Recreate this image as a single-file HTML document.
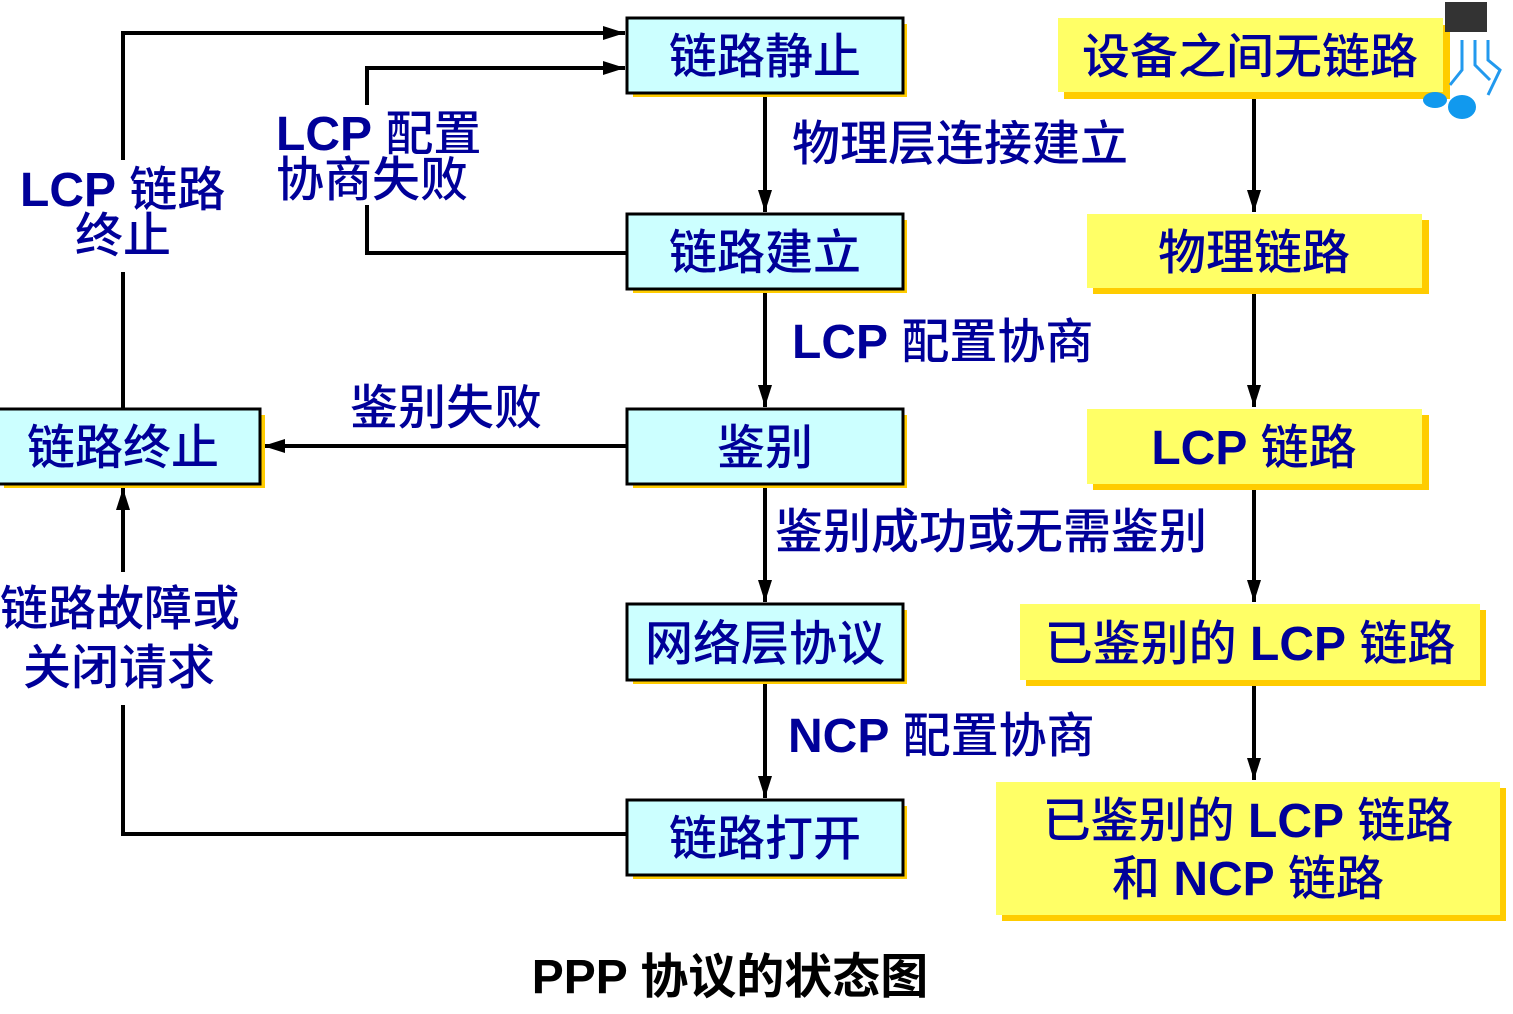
<!DOCTYPE html>
<html><head><meta charset="utf-8"><style>
html,body{margin:0;padding:0;background:#fff;}
svg text{font-family:"Liberation Sans","Noto Sans CJK SC",sans-serif;fill:#000099;font-weight:500;}
.b{font-weight:bold;}
svg text.t{fill:#000;font-weight:bold;}
</style></head><body>
<svg width="1513" height="1009" viewBox="0 0 1513 1009" xmlns="http://www.w3.org/2000/svg">
<defs>
<marker id="a" markerWidth="22" markerHeight="14" refX="22" refY="7" orient="auto" markerUnits="userSpaceOnUse">
<path d="M0,0 L22,7 L0,14 Z" fill="#000"/></marker>
</defs>
<g stroke="#000" stroke-width="4" fill="none">
<line x1="765" y1="93" x2="765" y2="212" marker-end="url(#a)"/>
<line x1="765" y1="289" x2="765" y2="407" marker-end="url(#a)"/>
<line x1="765" y1="484" x2="765" y2="602" marker-end="url(#a)"/>
<line x1="765" y1="680" x2="765" y2="798" marker-end="url(#a)"/>
<line x1="1254" y1="92" x2="1254" y2="212" marker-end="url(#a)"/>
<line x1="1254" y1="288" x2="1254" y2="407" marker-end="url(#a)"/>
<line x1="1254" y1="484" x2="1254" y2="602" marker-end="url(#a)"/>
<line x1="1254" y1="680" x2="1254" y2="780" marker-end="url(#a)"/>
<polyline points="123,409 123,33 625,33" marker-end="url(#a)"/>
<polyline points="627,253 367,253 367,68 625,68" marker-end="url(#a)"/>
<line x1="627" y1="446" x2="263" y2="446" marker-end="url(#a)"/>
<polyline points="627,834 123,834 123,488" marker-end="url(#a)"/>
</g>
<rect x="15" y="160" width="215" height="112" fill="#fff"/>
<rect x="272" y="105" width="215" height="100" fill="#fff"/>
<rect x="0" y="572" width="240" height="133" fill="#fff"/>
<g font-size="48">
<rect x="633" y="24" width="274" height="73" fill="#FFCC00"/>
<rect x="627" y="18" width="276" height="75" fill="#CCFFFF" stroke="#000" stroke-width="3"/>
<text x="765" y="73" text-anchor="middle">链路静止</text>
<rect x="633" y="220" width="274" height="73" fill="#FFCC00"/>
<rect x="627" y="214" width="276" height="75" fill="#CCFFFF" stroke="#000" stroke-width="3"/>
<text x="765" y="269" text-anchor="middle">链路建立</text>
<rect x="633" y="415" width="274" height="73" fill="#FFCC00"/>
<rect x="627" y="409" width="276" height="75" fill="#CCFFFF" stroke="#000" stroke-width="3"/>
<text x="765" y="464" text-anchor="middle">鉴别</text>
<rect x="633" y="610" width="274" height="74" fill="#FFCC00"/>
<rect x="627" y="604" width="276" height="76" fill="#CCFFFF" stroke="#000" stroke-width="3"/>
<text x="765" y="660" text-anchor="middle">网络层协议</text>
<rect x="633" y="806" width="274" height="73" fill="#FFCC00"/>
<rect x="627" y="800" width="276" height="75" fill="#CCFFFF" stroke="#000" stroke-width="3"/>
<text x="765" y="855" text-anchor="middle">链路打开</text>
<rect x="4" y="415" width="261" height="73" fill="#FFCC00"/>
<rect x="-2" y="409" width="262" height="75" fill="#CCFFFF" stroke="#000" stroke-width="3"/>
<text x="123" y="464" text-anchor="middle">链路终止</text>
<rect x="1064" y="25" width="386" height="74" fill="#FFCC00"/>
<rect x="1058" y="18" width="385" height="74" fill="#FFFF66"/>
<text x="1250" y="73" text-anchor="middle">设备之间无链路</text>
<rect x="1093" y="220" width="336" height="74" fill="#FFCC00"/>
<rect x="1087" y="214" width="335" height="74" fill="#FFFF66"/>
<text x="1254" y="269" text-anchor="middle">物理链路</text>
<rect x="1093" y="415" width="336" height="75" fill="#FFCC00"/>
<rect x="1087" y="409" width="335" height="75" fill="#FFFF66"/>
<text x="1254" y="464" text-anchor="middle"><tspan class="b">LCP</tspan> 链路</text>
<rect x="1026" y="610" width="460" height="76" fill="#FFCC00"/>
<rect x="1020" y="604" width="460" height="76" fill="#FFFF66"/>
<text x="1250" y="660" text-anchor="middle">已鉴别的 <tspan class="b">LCP</tspan> 链路</text>
<rect x="1002" y="788" width="504" height="133" fill="#FFCC00"/>
<rect x="996" y="782" width="504" height="133" fill="#FFFF66"/>
<text x="1248" y="837" text-anchor="middle">已鉴别的 <tspan class="b">LCP</tspan> 链路</text>
<text x="1248" y="895" text-anchor="middle">和 <tspan class="b">NCP</tspan> 链路</text>
</g>
<g font-size="48">
<text x="792" y="160">物理层连接建立</text>
<text x="792" y="358"><tspan class="b">LCP</tspan> 配置协商</text>
<text x="775" y="548">鉴别成功或无需鉴别</text>
<text x="788" y="752"><tspan class="b">NCP</tspan> 配置协商</text>
<text x="350" y="424">鉴别失败</text>
<text x="20" y="206"><tspan class="b">LCP</tspan> 链路</text>
<text x="75" y="252">终止</text>
<text x="276" y="150"><tspan class="b">LCP</tspan> 配置</text>
<text x="276" y="196">协商失败</text>
<text x="0" y="625">链路故障或</text>
<text x="23" y="684">关闭请求</text>
<text class="t" x="730" y="993" text-anchor="middle">PPP 协议的状态图</text>
</g>
<g>
<rect x="1445" y="2" width="42" height="30" fill="#333"/>
<path d="M1462,40 L1462,70 L1450,85 M1475,40 L1475,65 L1490,80 M1488,40 L1488,60 L1500,70 L1488,95" stroke="#2299ee" stroke-width="3" fill="none"/>
<ellipse cx="1462" cy="107" rx="14" ry="12" fill="#1199ee"/>
<ellipse cx="1435" cy="100" rx="12" ry="8" fill="#1199ee"/>
</g>
</svg>
</body></html>
